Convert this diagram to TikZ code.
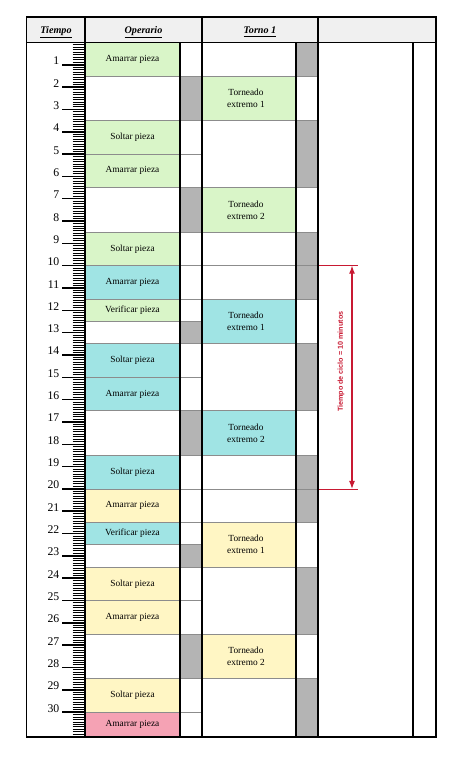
\documentclass[tikz,border=0pt]{standalone}
\usepackage{fontspec}
\setmainfont{Liberation Serif}
\newfontfamily\arialfont{Liberation Sans}
\usepackage{tikz}
\usetikzlibrary{arrows.meta}

\definecolor{vGreen}{RGB}{217,245,200}
\definecolor{vCyan}{RGB}{160,228,228}
\definecolor{vYellow}{RGB}{255,246,196}
\definecolor{vPink}{RGB}{245,162,180}
\definecolor{vGray}{RGB}{180,180,180}
\definecolor{vRed}{RGB}{200,25,50}
\definecolor{vHead}{RGB}{240,240,240}

\tikzset{
  cellbox/.style={draw={rgb, 255:red, 140; green, 140; blue, 140}, line width=0.6},
  colline/.style={line width=1.1, draw=black},
  frameline/.style={line width=1.3, draw=black},
  minortick/.style={line width=0.75},
  majortick/.style={line width=1.1},
  celltext/.style={inner sep=0.75pt, align=center, font=\fontsize{7}{9}\selectfont},
  headtext/.style={inner sep=0.75pt, font=\fontsize{7.6}{9}\selectfont\bfseries\itshape},
  numlabel/.style={anchor=base east, inner sep=0.75pt, font=\fontsize{8.8}{10}\selectfont},
  cyclearrow/.style={draw=vRed, line width=0.8, {Latex[length=6pt,width=4.5pt]}-{Latex[length=6pt,width=4.5pt]}},
  cycletext/.style={text=vRed, rotate=90, inner sep=0.75pt, font=\arialfont\fontsize{5.4}{6}\selectfont\bfseries}
}

\begin{document}
\begin{tikzpicture}[x=0.75pt,y=16.74pt,yscale=-1]
% x in pixels, y in minutes (top of body = 0)
\useasboundingbox (0,-1.904) rectangle (474,32.325);

%Header
\fill [vHead] (26.5,-1.1425) rectangle (436,0);
\node [headtext] (hTiempo) at (56,-0.47) {\underline{Tiempo}};
\node [headtext] (hOperario) at (143.5,-0.47) {\underline{Operario}};
\node [headtext] (hTorno) at (260,-0.47) {\underline{Torno 1}};

%Operario cells
\foreach \a/\b/\c/\txt [count=\i] in {0/1.5/vGreen/Amarrar pieza, 1.5/3.5/white/{}, 3.5/5/vGreen/Soltar pieza,
    5/6.5/vGreen/Amarrar pieza, 6.5/8.5/white/{}, 8.5/10/vGreen/Soltar pieza,
    10/11.5/vCyan/Amarrar pieza, 11.5/12.5/vGreen/Verificar pieza, 12.5/13.5/white/{},
    13.5/15/vCyan/Soltar pieza, 15/16.5/vCyan/Amarrar pieza, 16.5/18.5/white/{},
    18.5/20/vCyan/Soltar pieza, 20/21.5/vYellow/Amarrar pieza, 21.5/22.5/vCyan/Verificar pieza,
    22.5/23.5/white/{}, 23.5/25/vYellow/Soltar pieza, 25/26.5/vYellow/Amarrar pieza,
    26.5/28.5/white/{}, 28.5/30/vYellow/Soltar pieza, 30/31.116/vPink/Amarrar pieza}
  {
  \draw [cellbox, fill=\c] (85,\a) rectangle (180,\b);
  \node [celltext] (op\i) at (132.5,{(\a+\b)/2}) {\txt};
  }

%Operario idle column
\foreach \a/\b/\c in {0/1.5/white, 1.5/3.5/vGray, 3.5/5/white, 5/6.5/white, 6.5/8.5/vGray,
    8.5/10/white, 10/11.5/white, 11.5/12.5/white, 12.5/13.5/vGray, 13.5/15/white,
    15/16.5/white, 16.5/18.5/vGray, 18.5/20/white, 20/21.5/white, 21.5/22.5/white,
    22.5/23.5/vGray, 23.5/25/white, 25/26.5/white, 26.5/28.5/vGray, 28.5/30/white, 30/31.116/white}
  \draw [cellbox, fill=\c] (180,\a) rectangle (202,\b);

%Torno cells
\foreach \a/\b/\c/\e [count=\i] in {1.5/3.5/vGreen/1, 6.5/8.5/vGreen/2, 11.5/13.5/vCyan/1,
    16.5/18.5/vCyan/2, 21.5/23.5/vYellow/1, 26.5/28.5/vYellow/2}
  {
  \draw [cellbox, fill=\c] (202,\a) rectangle (296,\b);
  \node [celltext] (tor\i) at (246,{(\a+\b)/2}) {Torneado\\extremo \e};
  }

%Torno idle column
\foreach \a/\b in {0/1.5, 3.5/6.5, 8.5/11.5, 13.5/16.5, 18.5/21.5, 23.5/26.5, 28.5/31.116}
  \draw [cellbox, fill=vGray] (296,\a) rectangle (318,\b);

%Extension lines of the cycle time
\draw [cellbox] (202,10) -- (318,10) ;
\draw [cellbox] (202,20) -- (318,20) ;
\draw [draw=vRed, line width=0.6] (318,10) -- (358,10) ;
\draw [draw=vRed, line width=0.6] (318,20) -- (358,20) ;

%Column lines
\draw [colline] (85,-1.1425) -- (85,31.116) ;
\draw [colline] (180,0) -- (180,31.116) ;
\draw [colline] (202,-1.1425) -- (202,31.116) ;
\draw [colline] (296,0) -- (296,31.116) ;
\draw [colline] (318,-1.1425) -- (318,31.116) ;
\draw [colline] (413,0) -- (413,31.116) ;
\draw [frameline] (26.5,0) -- (436,0) ;
\draw [frameline] (26.5,-1.1425) rectangle (436,31.116) ;

%Time ruler
\foreach \k in {1,...,279}
  \draw [minortick] (72.7,\k/9) -- (85,\k/9) ;
\foreach \t in {1,...,30}
  {
  \draw [majortick] (62,\t) -- (85,\t) ;
  \node [numlabel] (min\t) at (60.5,\t) {\t};
  }

%Cycle time
\coordinate (cycTop) at (352,10);
\coordinate (cycBot) at (352,20);
\draw [cyclearrow] (cycTop) -- (cycBot) ;
\node [cycletext] (cycLabel) at (341,14.3) {Tiempo de ciclo = 10 minutos};

\end{tikzpicture}
\end{document}
